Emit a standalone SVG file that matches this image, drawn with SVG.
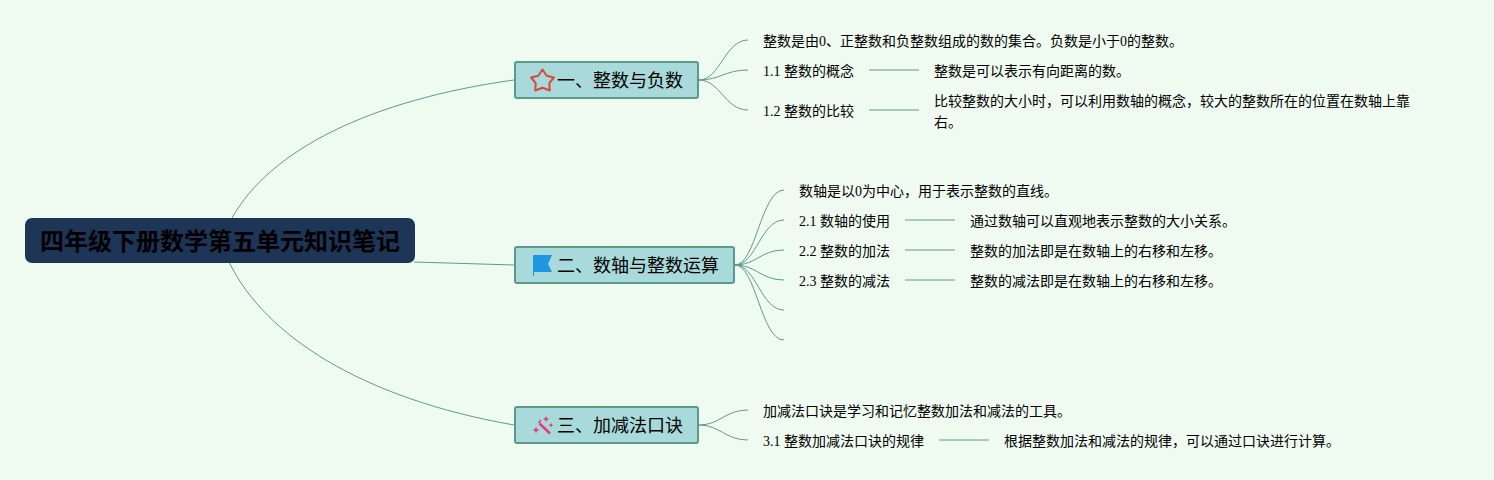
<svg xmlns="http://www.w3.org/2000/svg" width="1494" height="480" viewBox="0 0 1494 480">
<style>
text{font-family:"Liberation Serif","Noto Sans CJK SC",serif;fill:#000}
.leaf{font-size:14px}
.main{font-size:18px}
.box{fill:#a8dadc;stroke:#5a9a8c;stroke-width:2}
.c path{fill:none;stroke:#5f9a8c;stroke-width:1}
</style>
<rect width="1494" height="480" fill="#effbf1"/>
<g id="connectors" class="c">
<path d="M232 218C270 150 370 100 514 80"/>
<path d="M414 262L514 265"/>
<path d="M229.500 263C265 335 360 398 514 425"/>
<path d="M699 80C720 80 725 40 748 40"/>
<path d="M699 80C720 80 725 70 748 70"/>
<path d="M699 80C720 80 725 110 748 110"/>
<path d="M869 70H919"/>
<path d="M869 110H919"/>
<path d="M735 265C756 265 761 190 784 190"/>
<path d="M735 265C756 265 761 220 784 220"/>
<path d="M735 265C756 265 761 250 784 250"/>
<path d="M735 265C756 265 761 280 784 280"/>
<path d="M735 265C756 265 761 310 784 310"/>
<path d="M735 265C756 265 761 340 784 340"/>
<path d="M905 220H955"/>
<path d="M905 250H955"/>
<path d="M905 280H955"/>
<path d="M699 425C720 425 725 410 748 410"/>
<path d="M699 425C720 425 725 440 748 440"/>
<path d="M939 440H989"/>
</g>
<g id="root">
<rect x="25" y="218" width="390" height="45" rx="7" fill="#1d3557"/>
<text x="40" y="250" font-size="24" font-weight="700">四年级下册数学第五单元知识笔记</text>
</g>
<g id="n1">
<rect class="box" x="515" y="62" width="183" height="36" rx="2"/>
<path d="M542.500 69.500L546.700 75.700L553.900 77.500L549.300 83.200L549.800 90.500L542.500 87.800L535.200 90.500L535.700 83.200L531.100 77.500L538.300 75.700Z" fill="none" stroke="#d9483b" stroke-width="2" stroke-linejoin="round"/>
<text class="main" x="557" y="87">一、整数与负数</text>
</g>
<g id="n2">
<rect class="box" x="515" y="247" width="219" height="36" rx="2"/>
<path d="M533 255H552L548 264L552 272H534V276H533Z" fill="#1e96e0"/>
<text class="main" x="557" y="272">二、数轴与整数运算</text>
</g>
<g id="n3">
<rect class="box" x="515" y="407" width="183" height="36" rx="2"/>
<path d="M539.500 423.500L550 433.500" fill="none" stroke="#e23d78" stroke-width="2.500"/>
<path d="M546 416L547 418L549 419L547 420L546 422L545 420L543 419L545 418ZM536 426.500L537 429L539.500 430L537 431L536 433.500L535 431L532.500 430L535 429ZM551 423L552 424.500L553 425L552 426L551 427L550 426L549 425L550 424.500Z" fill="#e23d78"/>
<path d="M541 420L538.500 423" fill="none" stroke="#e23d78" stroke-width="1.500"/>
<text class="main" x="557" y="432">三、加减法口诀</text>
</g>
<g id="l11"><text class="leaf" x="763" y="46">整数是由0、正整数和负整数组成的数的集合。负数是小于0的整数。</text></g>
<g id="l12"><text class="leaf" x="763" y="76">1.1 整数的概念</text></g>
<g id="l13"><text class="leaf" x="934" y="76">整数是可以表示有向距离的数。</text></g>
<g id="l14"><text class="leaf" x="763" y="116">1.2 整数的比较</text></g>
<g id="l15"><text class="leaf"><tspan x="934" y="106">比较整数的大小时，可以利用数轴的概念，较大的整数所在的位置在数轴上靠</tspan><tspan x="934" y="127">右。</tspan></text></g>
<g id="l21"><text class="leaf" x="799" y="196">数轴是以0为中心，用于表示整数的直线。</text></g>
<g id="l22"><text class="leaf" x="799" y="226">2.1 数轴的使用</text></g>
<g id="l23"><text class="leaf" x="970" y="226">通过数轴可以直观地表示整数的大小关系。</text></g>
<g id="l24"><text class="leaf" x="799" y="256">2.2 整数的加法</text></g>
<g id="l25"><text class="leaf" x="970" y="256">整数的加法即是在数轴上的右移和左移。</text></g>
<g id="l26"><text class="leaf" x="799" y="286">2.3 整数的减法</text></g>
<g id="l27"><text class="leaf" x="970" y="286">整数的减法即是在数轴上的右移和左移。</text></g>
<g id="l31"><text class="leaf" x="763" y="416">加减法口诀是学习和记忆整数加法和减法的工具。</text></g>
<g id="l32"><text class="leaf" x="763" y="446">3.1 整数加减法口诀的规律</text></g>
<g id="l33"><text class="leaf" x="1004" y="446">根据整数加法和减法的规律，可以通过口诀进行计算。</text></g>
</svg>
